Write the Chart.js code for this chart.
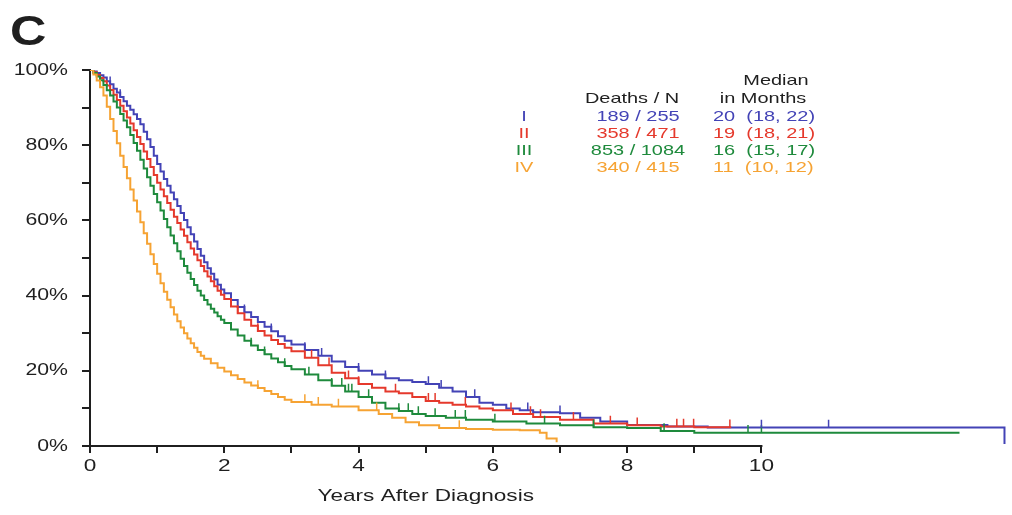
<!DOCTYPE html>
<html>
<head>
<meta charset="utf-8">
<script src="https://cdn.jsdelivr.net/npm/chart.js@4/dist/chart.umd.min.js"></script>
<style>
  html, body { margin: 0; padding: 0; background: #fff; }
  #wrap { position: relative; width: 1012px; height: 515px; }
</style>
</head>
<body>
<div id="wrap"><canvas id="km"></canvas></div>
<script>
// stage labels, colours and the little table in the corner
const stages = ['I', 'II', 'III', 'IV'];
const colors = ['#4343b6', '#e5392c', '#1e8a3c', '#f6a333'];
const deathsN = ['189 / 255', '358 / 471', '853 / 1084', '340 / 415'];
const medians = ['20  (18, 22)', '19  (18, 21)', '16  (15, 17)', '11  (10, 12)'];

// x ticks (years) marked on the axis
const yearTicks = [0, 1, 2, 3, 4, 5, 6, 7, 8, 9, 10];

// Kaplan-Meier estimates (years, % surviving)
const timesI = [0, 0.05, 0.1, 0.15, 0.2, 0.25, 0.3, 0.35, 0.4, 0.45, 0.5, 0.55, 0.6, 0.65, 0.7, 0.75, 0.8, 0.85, 0.9, 0.95,
  1.0, 1.05, 1.1, 1.15, 1.2, 1.25, 1.3, 1.35, 1.4, 1.45, 1.5, 1.55, 1.6, 1.65, 1.7, 1.75, 1.8, 1.85, 1.9, 1.95,
  2.0, 2.1, 2.2, 2.3, 2.4, 2.5, 2.6, 2.7, 2.8, 2.9, 3.0, 3.2, 3.4, 3.6, 3.8, 4.0, 4.2, 4.4, 4.6, 4.8, 5.0, 5.2, 5.4,
  5.6, 5.8, 6.0, 6.2, 6.4, 6.6, 7.0, 7.3, 7.6, 8.0, 8.6, 9.2, 13.62];
const survI = [100, 99.6, 99.2, 98.6, 98, 97, 96.2, 95, 94, 92.8, 91.7, 90.5, 89.4, 88.2, 87, 85.6, 83.6, 81.6, 79.5, 77.2,
  75, 73, 71, 69.2, 67.4, 65.6, 63.8, 62, 60.1, 58.2, 56.3, 54.4, 52.4, 50.6, 48.9, 47.3, 45.8, 44.3, 42.9, 41.6,
  40.6, 38.8, 37, 35.6, 34.3, 33, 31.7, 30.5, 29.2, 28, 27, 25.5, 24, 22.5, 21, 20, 19, 18, 17.5, 17, 16.5, 15.5, 14.5,
  13, 11.5, 11, 10, 9.5, 9, 8.7, 7.5, 6.5, 5.6, 5.2, 4.9, 0.5];

const timesII = [0, 0.05, 0.1, 0.15, 0.2, 0.25, 0.3, 0.35, 0.4, 0.45, 0.5, 0.55, 0.6, 0.65, 0.7, 0.75, 0.8, 0.85, 0.9, 0.95,
  1.0, 1.05, 1.1, 1.15, 1.2, 1.25, 1.3, 1.35, 1.4, 1.45, 1.5, 1.55, 1.6, 1.65, 1.7, 1.75, 1.8, 1.85, 1.9, 1.95,
  2.0, 2.1, 2.2, 2.3, 2.4, 2.5, 2.6, 2.7, 2.8, 2.9, 3.0, 3.2, 3.4, 3.6, 3.8, 4.0, 4.2, 4.4, 4.6, 4.8, 5.0, 5.2, 5.4,
  5.6, 5.8, 6.0, 6.3, 6.6, 7.0, 7.5, 8.0, 8.5, 9.0, 9.55];
const survII = [100, 99.4, 98.7, 97.9, 97, 95.9, 94.7, 93.4, 92, 90.5, 89, 87.4, 85.8, 84, 82.2, 80.3, 78.3, 76.3, 74.2, 72.1,
  70, 68.2, 66.4, 64.6, 62.8, 61, 59.3, 57.6, 55.9, 54.2, 52.5, 50.9, 49.4, 47.9, 46.5, 45.1, 43.8, 42.5, 41.3, 40.2,
  39.1, 37.1, 35.3, 33.6, 32, 30.6, 29.4, 28.2, 27.1, 26.1, 25.2, 23.5, 21.5, 19.5, 18, 16.5, 15.5, 14.5, 14, 13, 12, 11.5, 11,
  10.5, 10, 9.5, 8.5, 7.7, 7, 6, 5.5, 5.2, 5, 5];

const timesIII = [0, 0.05, 0.1, 0.15, 0.2, 0.25, 0.3, 0.35, 0.4, 0.45, 0.5, 0.55, 0.6, 0.65, 0.7, 0.75, 0.8, 0.85, 0.9, 0.95,
  1.0, 1.05, 1.1, 1.15, 1.2, 1.25, 1.3, 1.35, 1.4, 1.45, 1.5, 1.55, 1.6, 1.65, 1.7, 1.75, 1.8, 1.85, 1.9, 1.95,
  2.0, 2.1, 2.2, 2.3, 2.4, 2.5, 2.6, 2.7, 2.8, 2.9, 3.0, 3.2, 3.4, 3.6, 3.8, 4.0, 4.2, 4.4, 4.6, 4.8, 5.0, 5.3, 5.6, 6.0,
  6.5, 7.0, 7.5, 8.0, 8.5, 9.0, 12.95];
const survIII = [100, 99.2, 98.3, 97.3, 96, 94.6, 93.2, 91.6, 90, 88.3, 86.6, 84.8, 82.7, 80.6, 78.5, 76.1, 73.8, 71.5, 69.2, 67,
  64.8, 62.6, 60.4, 58.2, 56, 53.9, 51.8, 49.8, 47.9, 46.1, 44.4, 42.8, 41.3, 40, 38.8, 37.6, 36.5, 35.5, 34.5, 33.6,
  32.7, 31, 29.4, 28, 26.7, 25.5, 24.4, 23.3, 22.3, 21.3, 20.4, 19, 17.5, 16, 14.5, 13, 11.5, 10, 9.3, 8.5, 8, 7.5, 7, 6.5,
  6, 5.5, 5, 4.8, 4, 3.5, 3.5];

const timesIV = [0, 0.05, 0.1, 0.15, 0.2, 0.25, 0.3, 0.35, 0.4, 0.45, 0.5, 0.55, 0.6, 0.65, 0.7, 0.75, 0.8, 0.85, 0.9, 0.95,
  1.0, 1.05, 1.1, 1.15, 1.2, 1.25, 1.3, 1.35, 1.4, 1.45, 1.5, 1.55, 1.6, 1.65, 1.7, 1.8, 1.9, 2.0, 2.1, 2.2, 2.3, 2.4,
  2.5, 2.6, 2.7, 2.8, 2.9, 3.0, 3.3, 3.6, 4.0, 4.3, 4.5, 4.7, 4.9, 5.2, 5.6, 6.0, 6.4, 6.7, 6.8, 6.95];
const survIV = [100, 98.8, 97.2, 95.4, 93.2, 90.2, 87, 83.8, 80.5, 77.2, 74.2, 71.2, 68.2, 65.3, 62.4, 59.5, 56.6, 53.8, 51, 48.4,
  45.8, 43.3, 41, 38.9, 36.9, 35, 33.2, 31.5, 30, 28.6, 27.3, 26.1, 25, 24, 23.2, 22, 20.8, 19.8, 18.8, 17.8, 16.9, 16.1,
  15.4, 14.6, 13.8, 13, 12.3, 11.7, 11, 10.5, 9.5, 8.5, 7.5, 6.3, 5.5, 4.8, 4.5, 4.3, 4.2, 3.5, 2, 1];

// censoring times (years) shown as small ticks on the curves
const censorI = [0.3, 0.45, 2.3, 2.7, 3.2, 3.45, 4.0, 4.4, 5.04, 5.23, 5.73, 6.52, 7.0, 10.0, 11.0];
const censorII = [2.2, 2.5, 3.3, 3.56, 3.85, 4.0, 4.55, 5.04, 5.14, 5.59, 6.27, 6.56, 6.71, 7.2, 7.75, 8.15, 8.74, 8.84, 8.99, 9.53];
const censorIII = [2.4, 2.6, 2.9, 3.26, 3.6, 3.75, 3.85, 3.9, 4.15, 4.6, 4.74, 4.89, 5.14, 5.44, 5.59, 6.03, 6.77, 7.5, 8.55, 9.8, 10.0];
const censorIV = [2.5, 3.2, 3.4, 3.7, 4.27, 5.5];

const curves = [
  { t: timesI, s: survI, c: censorI },
  { t: timesII, s: survII, c: censorII },
  { t: timesIII, s: survIII, c: censorIII },
  { t: timesIV, s: survIV, c: censorIV }
];

function survAt(times, surv, x) {
  let v = surv[0];
  for (let i = 0; i < times.length; i++) {
    if (times[i] <= x) v = surv[i];
  }
  return v;
}

const datasets = [];
curves.forEach((cv, i) => {
  datasets.push({
    label: stages[i],
    data: cv.t.map((t, k) => ({ x: t, y: cv.s[k] })),
    borderColor: colors[i],
    borderWidth: 2,
    stepped: true,
    pointRadius: 0,
    fill: false,
    order: 4 - i
  });
});
curves.forEach((cv, i) => {
  datasets.push({
    type: 'scatter',
    label: stages[i] + ' censored',
    data: cv.c.map(t => ({ x: t, y: survAt(cv.t, cv.s, t) + 1 })),
    borderColor: colors[i],
    backgroundColor: colors[i],
    pointStyle: 'line',
    rotation: 90,
    pointRadius: 4,
    borderWidth: 1.5,
    showLine: false
  });
});

const FONT = '"Liberation Sans", Arial, Helvetica, sans-serif';
const INK = '#1f1f1f';
const SX = 1.33; // the original lettering is set wide

function wideText(ctx, text, x, y, align, sx) {
  ctx.save();
  ctx.translate(x, y);
  ctx.scale(sx, 1);
  ctx.textAlign = align;
  ctx.fillText(text, 0, 0);
  ctx.restore();
}

const annotations = {
  id: 'annotations',
  afterDraw(chart) {
    const ctx = chart.ctx;
    const xs = chart.scales.x;
    const ys = chart.scales.y;
    const area = chart.chartArea;
    const x0 = xs.getPixelForValue(0);
    const x10 = xs.getPixelForValue(10);
    ctx.save();
    // x axis line only runs to 10 years
    ctx.strokeStyle = INK;
    ctx.lineWidth = 2;
    ctx.beginPath();
    ctx.moveTo(x0 - 1, area.bottom);
    ctx.lineTo(x10 + 1, area.bottom);
    ctx.stroke();

    ctx.fillStyle = INK;
    ctx.textBaseline = 'middle';

    // tick labels
    ctx.font = '17px ' + FONT;
    ys.ticks.forEach(t => {
      if (t.value % 20 === 0) wideText(ctx, t.value + '%', 68, ys.getPixelForValue(t.value), 'right', 1.25);
    });
    xs.ticks.forEach(t => {
      if (t.value % 2 === 0) wideText(ctx, String(t.value), xs.getPixelForValue(t.value), area.bottom + 20, 'center', SX);
    });
    wideText(ctx, 'Years After Diagnosis', (x0 + x10) / 2, 496, 'center', SX);

    ctx.font = 'bold 42px ' + FONT;
    ctx.textBaseline = 'alphabetic';
    wideText(ctx, 'C', 10, 45, 'left', 1.2);

    // table
    ctx.textBaseline = 'middle';
    ctx.font = '15px ' + FONT;
    wideText(ctx, 'Median', 776, 81, 'center', SX);
    wideText(ctx, 'Deaths / N', 632, 99, 'center', SX);
    wideText(ctx, 'in Months', 763, 99, 'center', SX);
    stages.forEach((st, i) => {
      const y = 117 + i * 17;
      ctx.fillStyle = colors[i];
      wideText(ctx, st, 524, y, 'center', SX);
      wideText(ctx, deathsN[i], 638, y, 'center', SX);
      wideText(ctx, medians[i], 713, y, 'left', SX);
    });
    ctx.restore();
  }
};

new Chart(document.getElementById('km'), {
  type: 'line',
  data: { datasets: datasets },
  options: {
    responsive: true,
    maintainAspectRatio: false,
    animation: false,
    layout: { padding: { top: 70, right: 2, bottom: 0, left: 0 } },
    plugins: {
      legend: { display: false },
      tooltip: { enabled: false }
    },
    scales: {
      x: {
        type: 'linear',
        min: 0,
        max: 13.65,
        afterBuildTicks: s => { s.ticks = yearTicks.map(v => ({ value: v })); },
        afterFit: s => { s.height = 69; },
        ticks: { display: false },
        grid: { drawOnChartArea: false, tickLength: 7, color: INK, lineWidth: 2 },
        border: { display: false }
      },
      y: {
        min: 0,
        max: 100,
        afterFit: s => { s.width = 90; },
        ticks: { display: false, stepSize: 10 },
        grid: { drawOnChartArea: false, tickLength: 8, color: INK, lineWidth: 2 },
        border: { display: true, color: INK, width: 2 }
      }
    }
  },
  plugins: [annotations]
});
</script>
</body>
</html>
